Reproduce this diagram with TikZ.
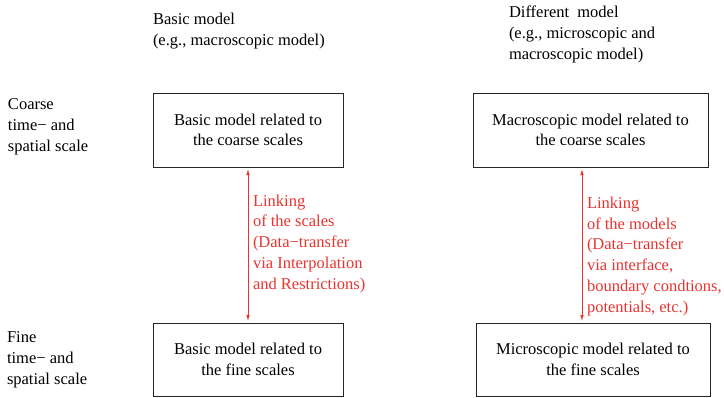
\documentclass[tikz,border=0pt]{standalone}
\usepackage{fontspec}
\setmainfont{Liberation Serif}
\usetikzlibrary{arrows.meta}
\definecolor{linkred}{RGB}{232,52,48}
\begin{document}
\begin{tikzpicture}[x=1pt,y=-1pt,
  every node/.style={inner sep=0pt, outer sep=0pt,
    font=\fontsize{16.5}{20.7}\selectfont},
  modelbox/.style={draw=black!85, line width=0.9pt, align=center},
  label/.style={anchor=base west, align=left},
  linklabel/.style={label, text=linkred},
  link/.style={draw=linkred, line width=0.8pt,
    {Latex[length=6pt,width=3.5pt]}-{Latex[length=6pt,width=3.5pt]}}]
  \useasboundingbox (0,0) rectangle (724,397);

  % column headings (anchored at the baseline of their last line)
  \node[label] (hbasic) at (153,45) {Basic model\\(e.g., macroscopic model)};
  \node[label] (hdiff) at (509,59) {Different\ \ model\\(e.g., microscopic and\\macroscopic model)};

  % scale labels
  \node[label] (coarse) at (8,151) {Coarse\\time− and\\spatial scale};
  \node[label] (fine) at (7,384) {Fine\\time− and\\spatial scale};

  % model boxes
  \node[modelbox, minimum width=190, minimum height=74] (bc) at (248,130)
    {Basic model related to\\the coarse scales};
  \node[modelbox, minimum width=235, minimum height=74] (mc) at (590.5,130)
    {Macroscopic model related to\\the coarse scales};
  \node[modelbox, minimum width=190, minimum height=73] (bf) at (248,359.5)
    {Basic model related to\\the fine scales};
  \node[modelbox, minimum width=234, minimum height=73] (mf) at (593,359.5)
    {Microscopic model related to\\the fine scales};

  % links between the levels
  \coordinate (l1) at (248,169);
  \coordinate (l2) at (248,321);
  \coordinate (r1) at (582,169);
  \coordinate (r2) at (582,321);
  \draw[link] (l1) -- (l2);
  \draw[link] (r1) -- (r2);

  \node[linklabel] (tl) at (253,289)
    {Linking\\of the scales\\(Data−transfer\\via Interpolation\\and Restrictions)};
  \node[linklabel] (tr) at (587,312)
    {Linking\\of the models\\(Data−transfer\\via interface,\\boundary condtions,\\potentials, etc.)};
\end{tikzpicture}
\end{document}
